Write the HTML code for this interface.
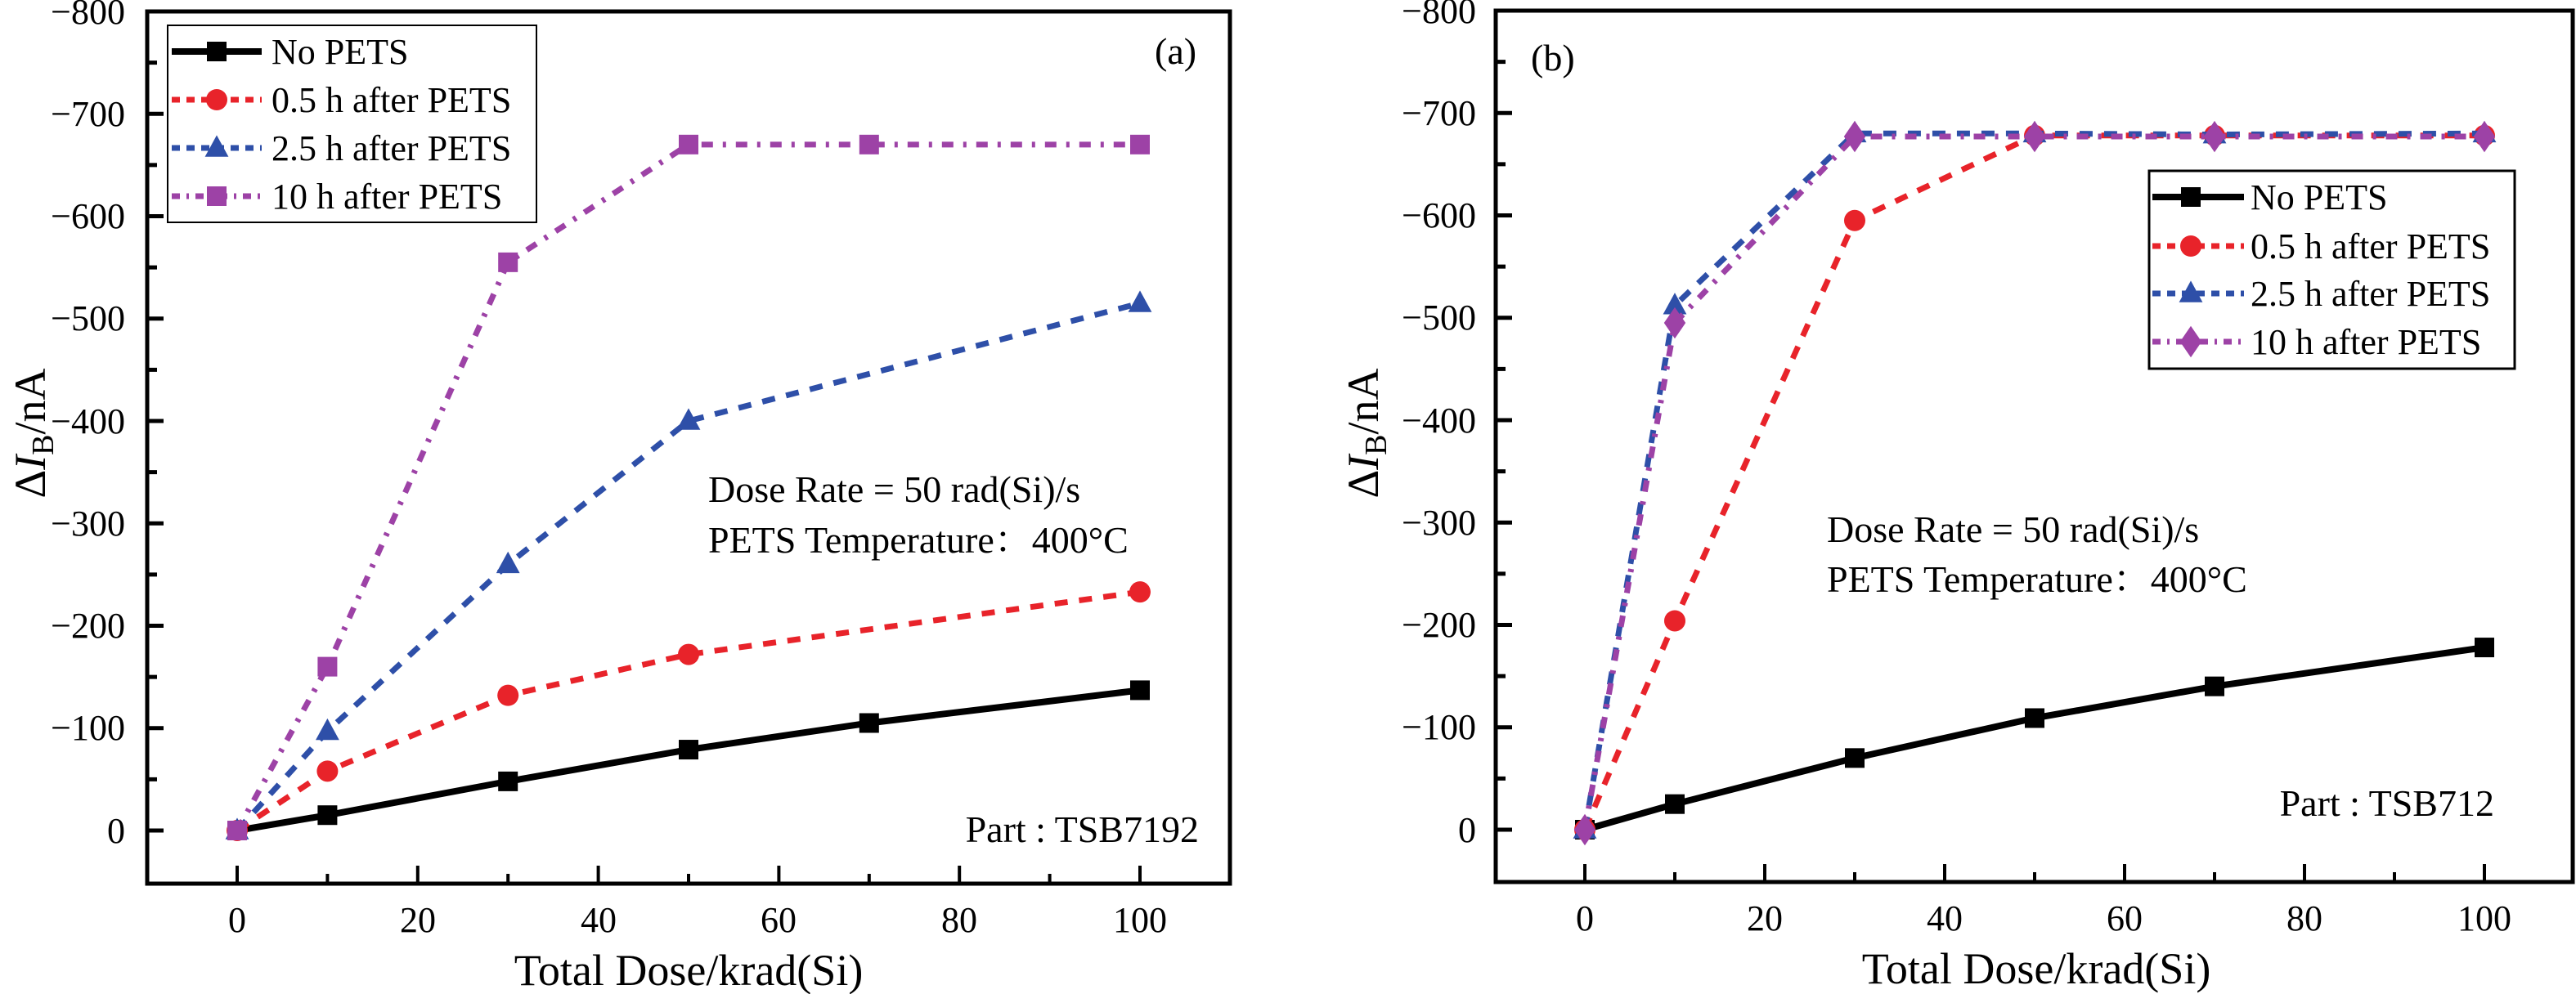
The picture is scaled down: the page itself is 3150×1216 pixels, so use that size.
<!DOCTYPE html>
<html><head><meta charset="utf-8"><style>
html,body{margin:0;padding:0;background:#fff}
svg{display:block}
text{font-family:"Liberation Serif","Noto Serif CJK SC",serif;fill:#000}
</style></head><body>
<svg id="s" width="3150" height="1216" viewBox="0 0 3150 1216" xmlns="http://www.w3.org/2000/svg">
<!-- panel a axes -->
<rect x="180" y="14" width="1324" height="1067" fill="none" stroke="#000" stroke-width="5"/>
<rect x="1829" y="13" width="1317" height="1066" fill="none" stroke="#000" stroke-width="5"/>
<g id="ticks"></g>
<g id="data"></g>
<!-- tick labels panel a -->
<g font-size="44" text-anchor="end">
<text x="153" y="29">−800</text><text x="153" y="154">−700</text><text x="153" y="279">−600</text><text x="153" y="404">−500</text><text x="153" y="530">−400</text><text x="153" y="655">−300</text><text x="153" y="780">−200</text><text x="153" y="905">−100</text><text x="153" y="1031">0</text>
<text x="1805" y="28">−800</text><text x="1805" y="153">−700</text><text x="1805" y="278">−600</text><text x="1805" y="403">−500</text><text x="1805" y="529">−400</text><text x="1805" y="654">−300</text><text x="1805" y="779">−200</text><text x="1805" y="904">−100</text><text x="1805" y="1030">0</text>
</g>
<g font-size="44" text-anchor="middle">
<text x="290" y="1140">0</text><text x="511" y="1140">20</text><text x="732" y="1140">40</text><text x="952" y="1140">60</text><text x="1173" y="1140">80</text><text x="1394" y="1140">100</text>
<text x="1938" y="1138">0</text><text x="2158" y="1138">20</text><text x="2378" y="1138">40</text><text x="2598" y="1138">60</text><text x="2818" y="1138">80</text><text x="3038" y="1138">100</text>
</g>
<g font-size="54" text-anchor="middle">
<text x="842" y="1205">Total Dose/krad(Si)</text>
<text x="2490" y="1203">Total Dose/krad(Si)</text>
<text transform="translate(55,530) rotate(-90)">Δ<tspan font-style="italic">I</tspan><tspan font-size="38" dy="10">B</tspan><tspan dy="-10">/nA</tspan></text>
<text transform="translate(1685,530) rotate(-90)">Δ<tspan font-style="italic">I</tspan><tspan font-size="38" dy="10">B</tspan><tspan dy="-10">/nA</tspan></text>
</g>
<g font-size="46">
<text x="1412" y="78">(a)</text>
<text x="1872" y="86">(b)</text>
<text x="866" y="614">Dose Rate = 50 rad(Si)/s</text>
<text x="866" y="676">PETS Temperature：400°C</text>
<text x="2234" y="663">Dose Rate = 50 rad(Si)/s</text>
<text x="2234" y="724">PETS Temperature：400°C</text>
<text x="1466" y="1030" text-anchor="end">Part : TSB7192</text>
<text x="3050" y="998" text-anchor="end">Part : TSB712</text>
</g>
<!-- legends -->
<rect x="205" y="31" width="451" height="241" fill="#fff" stroke="#000" stroke-width="2"/>
<rect x="2628" y="209" width="447" height="242" fill="#fff" stroke="#000" stroke-width="3"/>
<g id="leg"></g>
<g font-size="44">
<text x="332" y="78">No PETS</text><text x="332" y="137">0.5 h after PETS</text><text x="332" y="196">2.5 h after PETS</text><text x="332" y="255">10 h after PETS</text>
<text x="2752" y="256">No PETS</text><text x="2752" y="316">0.5 h after PETS</text><text x="2752" y="374">2.5 h after PETS</text><text x="2752" y="433">10 h after PETS</text>
</g>
</svg>
<script>
const NS="http://www.w3.org/2000/svg";
function el(p,t,a){const e=document.createElementNS(NS,t);for(const k in a)e.setAttribute(k,a[k]);p.appendChild(e);return e;}
const T=document.getElementById('ticks'),D=document.getElementById('data'),L=document.getElementById('leg');
const P=[{x0:290,sx:11.04,y0:1016,l:180,b:1081},{x0:1938,sx:11.0,y0:1015,l:1829,b:1079}];
const sy=1.2525;
P.forEach(p=>{
 for(let v=0;v<=800;v+=50){const y=p.y0-v*sy;const len=v%100?12:20;el(T,'line',{x1:p.l,y1:y,x2:p.l+len,y2:y,stroke:'#000','stroke-width':5});}
 for(let x=0;x<=100;x+=10){const X=p.x0+x*p.sx;const len=x%20?12:22;el(T,'line',{x1:X,y1:p.b,x2:X,y2:p.b-len,stroke:'#000','stroke-width':4});}
});
const C={k:'#000',r:'#e8232a',b:'#2e4fa8',m:'#9d42a6'};
const dash={k:'',r:'16 14',b:'16 14',m:'14 12 4 12'};
function marker(g,type,X,Y,c,s){
 if(type=='sq')el(g,'rect',{x:X-s/2,y:Y-s/2,width:s,height:s,fill:c});
 else if(type=='ci')el(g,'circle',{cx:X,cy:Y,r:s/2+1,fill:c});
 else if(type=='tr')el(g,'polygon',{points:`${X},${Y-s*0.65} ${X-s*0.6},${Y+s*0.45} ${X+s*0.6},${Y+s*0.45}`,fill:c});
 else if(type=='di')el(g,'polygon',{points:`${X},${Y-s*0.8} ${X-s*0.55},${Y} ${X},${Y+s*0.8} ${X+s*0.55},${Y}`,fill:c});
}
const A=[
 ['k','sq',[[0,0],[10,-15],[30,-48],[50,-79],[70,-105],[100,-137]]],
 ['r','ci',[[0,0],[10,-58],[30,-132],[50,-172],[100,-233]]],
 ['b','tr',[[0,0],[10,-97],[30,-260],[50,-400],[100,-515]]],
 ['m','sq',[[0,0],[10,-160],[30,-555],[50,-670],[70,-670],[100,-670]]]];
const B=[
 ['k','sq',[[0,0],[10,-25],[30,-70],[50,-109],[70,-140],[100,-178]]],
 ['r','ci',[[0,0],[10,-204],[30,-595],[50,-678],[70,-678],[100,-678]]],
 ['b','tr',[[0,0],[10,-512],[30,-680],[50,-680],[70,-679],[100,-680]]],
 ['m','di',[[0,0],[10,-495],[30,-677],[50,-677],[70,-677],[100,-677]]]];
[[A,P[0]],[B,P[1]]].forEach(([S,p])=>{
 S.forEach(([c,m,pts])=>{
  const xy=pts.map(([x,v])=>[p.x0+x*p.sx,p.y0+v*sy]);
  el(D,'polyline',{points:xy.map(a=>a.join(',')).join(' '),fill:'none',stroke:C[c],'stroke-width':c=='k'?8:7,'stroke-dasharray':dash[c]});
  xy.forEach(([X,Y])=>marker(D,m,X,Y,C[c],24));
 });
});
// legends
[[210,[63,122,181,240],['sq','ci','tr','sq']],[2632,[241,301,359,418],['sq','ci','tr','di']]].forEach(([x,ys,ms],i)=>{
 ['k','r','b','m'].forEach((c,j)=>{
  const w=i==0?110:112;
  el(L,'line',{x1:x,y1:ys[j],x2:x+w,y2:ys[j],stroke:C[c],'stroke-width':c=='k'?8:7,'stroke-dasharray':c=='k'?'':(c=='m'?'10 8 3 8':'10 8')});
  marker(L,ms[j],x+(i==0?55:47),ys[j],C[c],24);
 });
});
</script>
</body></html>
